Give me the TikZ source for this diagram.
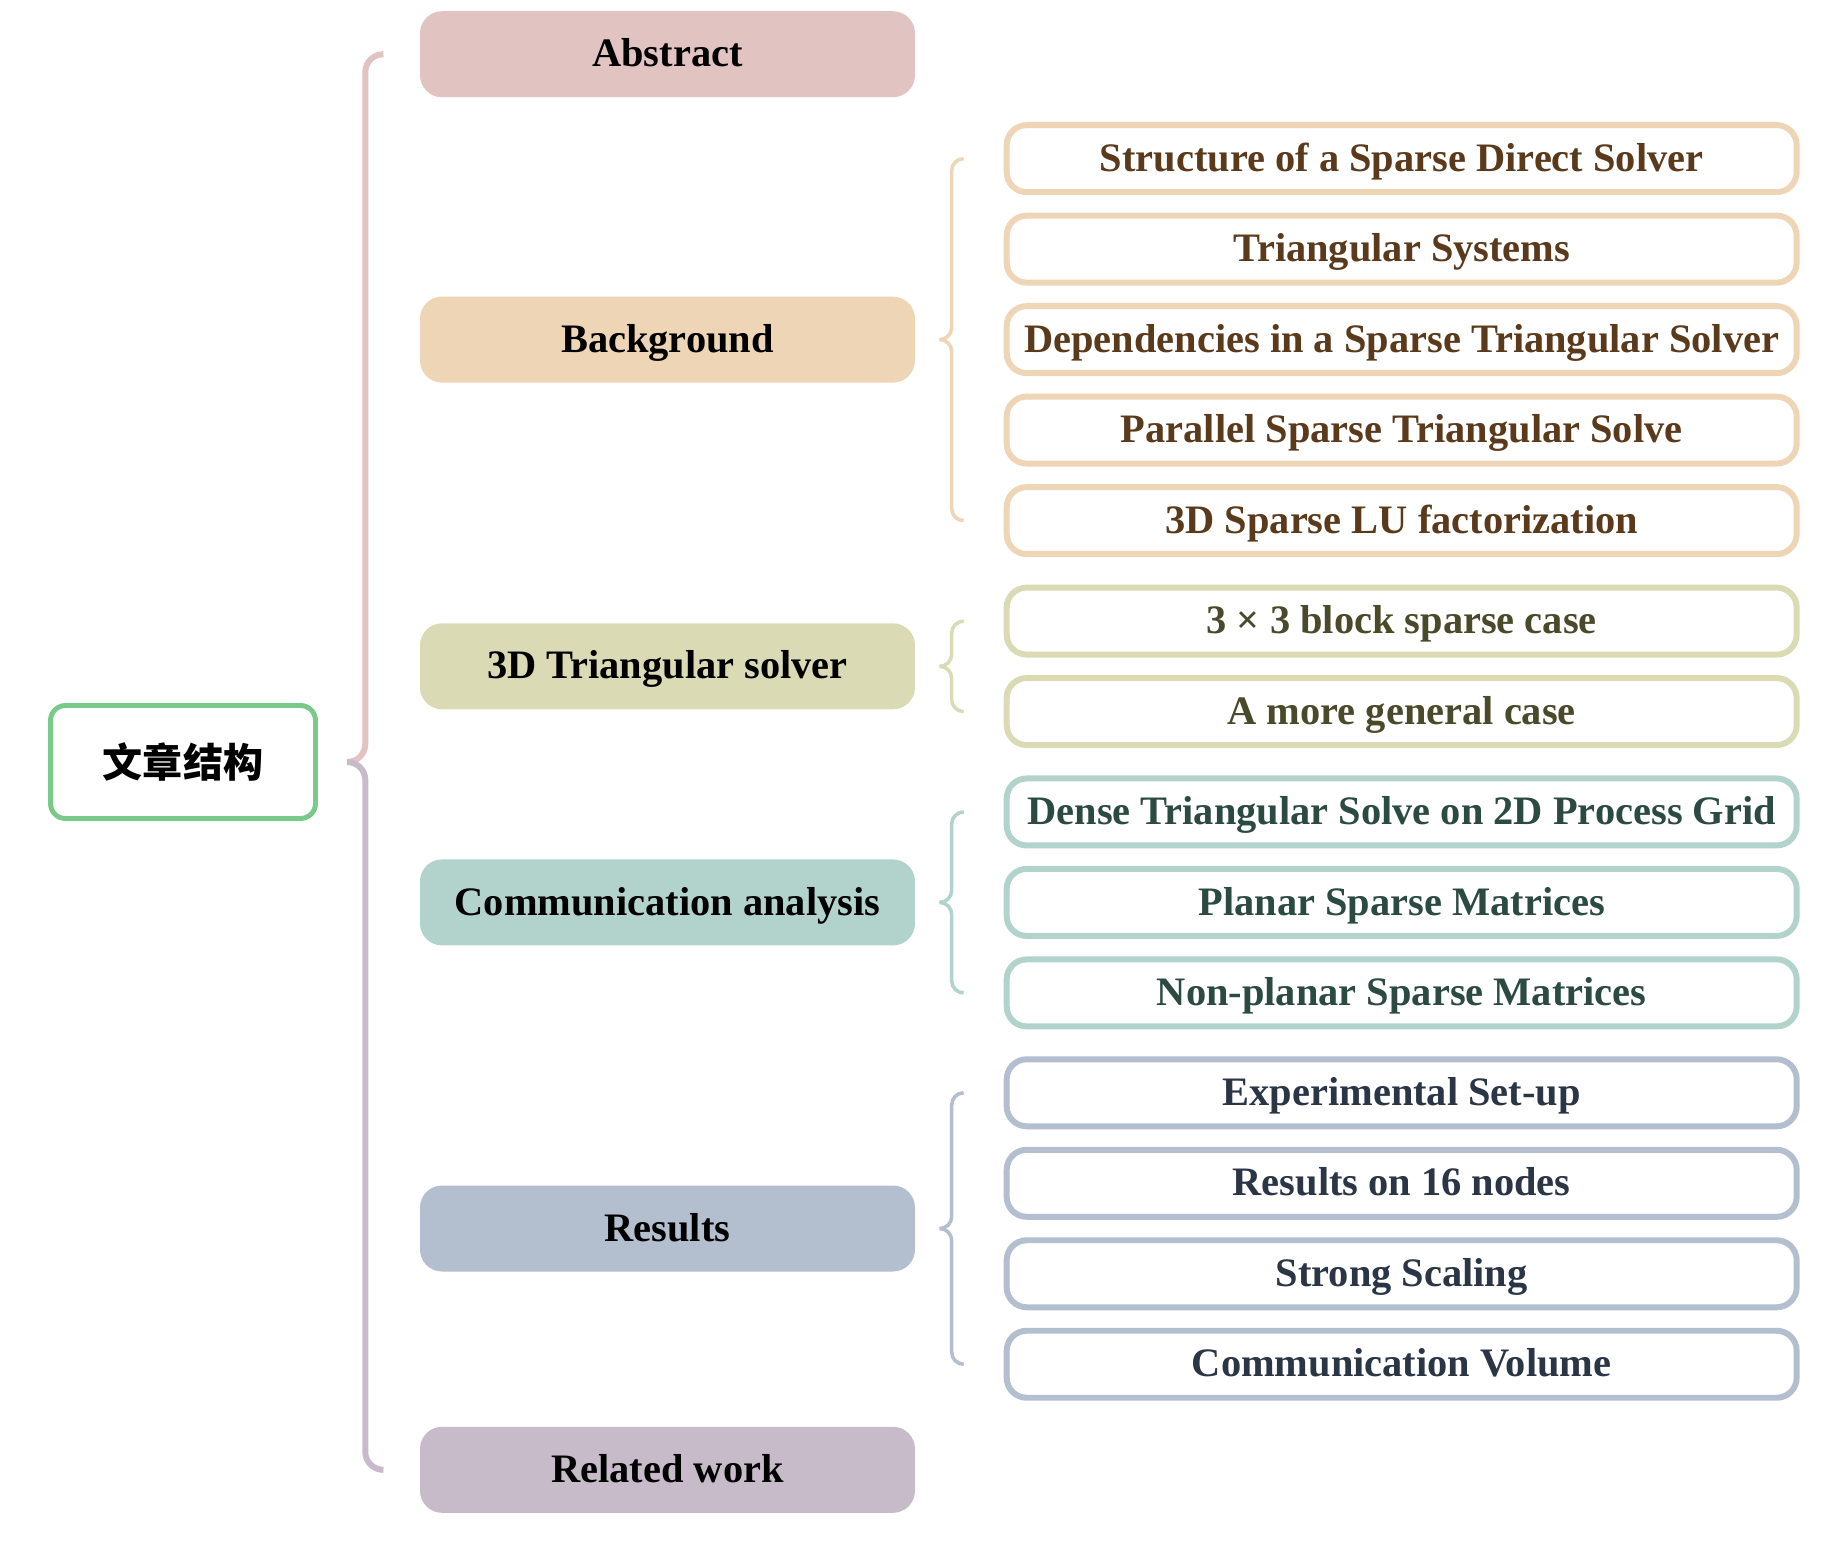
\documentclass[tikz,border=0pt]{standalone}
\usepackage{fontspec}
\setmainfont{Liberation Serif}
\newfontfamily\cjk{Noto Sans CJK SC}
\usepackage{tikz}
\usetikzlibrary{positioning,calc}
\usepackage{xcolor}
\definecolor{absc}{HTML}{E1C3C2}
\definecolor{bgc}{HTML}{EED5B5}
\definecolor{tric}{HTML}{DADBB5}
\definecolor{comc}{HTML}{B2D3CB}
\definecolor{resc}{HTML}{B3BFCF}
\definecolor{relc}{HTML}{C7BAC9}
\definecolor{rootc}{HTML}{78C98A}
\definecolor{bgtxt}{HTML}{5B3A1C}
\definecolor{tritxt}{HTML}{4A4A2A}
\definecolor{comtxt}{HTML}{2B4A42}
\definecolor{restxt}{HTML}{2A3545}
\newcommand\lbl{\fontsize{11.5pt}{13.8pt}\selectfont\bfseries}

\begin{document}
\begin{tikzpicture}[
  main/.style={rectangle, rounded corners=2.2mm, minimum width=4.95cm, minimum height=0.86cm, text height=9.8pt, text depth=2.6pt, align=center, font=\lbl},
  sub/.style={rectangle, draw, line width=1.7pt, rounded corners=2mm, fill=white, minimum width=7.9cm, minimum height=0.67cm, text height=9.8pt, text depth=2.6pt, align=center, font=\lbl},
  brc/.style={line width=1.7pt, rounded corners=1.8mm},
  sbrc/.style={line width=1pt, rounded corners=1.2mm}
]
\useasboundingbox (0,0) rectangle (18.46,-15.40);

\node[draw=rootc, line width=1.4pt, rounded corners=1.5mm, minimum width=2.65cm, minimum height=1.13cm, font=\cjk\fontsize{11.4pt}{13.7pt}\selectfont\bfseries] (root) at (1.83,-7.62) {文章结构};

\node[main, fill=absc] (abs) at (6.675,-0.542)  {Abstract};
\node[main, fill=bgc]  (bg)  at (6.675,-3.396)  {Background};
\node[main, fill=tric] (tri) at (6.675,-6.663)  {3D Triangular solver};
\node[main, fill=comc] (com) at (6.675,-9.024)  {Communication analysis};
\node[main, fill=resc] (res) at (6.675,-12.285) {Results};
\node[main, fill=relc] (rel) at (6.675,-14.698) {Related work};

\node[sub, draw=bgc, text=bgtxt, right=0.88cm of bg] (b3) {Dependencies in a Sparse Triangular Solver};
\node[sub, draw=bgc, text=bgtxt, above=0.175cm of b3] (b2) {Triangular Systems};
\node[sub, draw=bgc, text=bgtxt, above=0.175cm of b2] (b1) {Structure of a Sparse Direct Solver};
\node[sub, draw=bgc, text=bgtxt, below=0.175cm of b3] (b4) {Parallel Sparse Triangular Solve};
\node[sub, draw=bgc, text=bgtxt, below=0.175cm of b4] (b5) {3D Sparse LU factorization};

\node[sub, draw=tric, text=tritxt, above right=0.0875cm and 0.88cm of tri.east] (t1) {3 × 3 block sparse case};
\node[sub, draw=tric, text=tritxt, below=0.175cm of t1] (t2) {A more general case};

\node[sub, draw=comc, text=comtxt, right=0.88cm of com] (c2) {Planar Sparse Matrices};
\node[sub, draw=comc, text=comtxt, above=0.175cm of c2] (c1) {Dense Triangular Solve on 2D Process Grid};
\node[sub, draw=comc, text=comtxt, below=0.175cm of c2] (c3) {Non-planar Sparse Matrices};

\node[sub, draw=resc, text=restxt, above right=0.0875cm and 0.88cm of res.east] (r2) {Results on 16 nodes};
\node[sub, draw=resc, text=restxt, above=0.175cm of r2] (r1) {Experimental Set-up};
\node[sub, draw=resc, text=restxt, below=0.175cm of r2] (r3) {Strong Scaling};
\node[sub, draw=resc, text=restxt, below=0.175cm of r3] (r4) {Communication Volume};

\draw[brc, absc] ([xshift=-3.7mm]abs.west) -- ([xshift=-5.4mm]abs.west) |- ([xshift=3mm]root.east);
\draw[brc, relc] ([xshift=-3.7mm]rel.west) -- ([xshift=-5.4mm]rel.west) |- ([xshift=3mm]root.east);

\draw[sbrc, bgc] ([xshift=-4mm]b1.west) -- ([xshift=-5.2mm]b1.west) |- ([xshift=2.9mm]bg.east);
\draw[sbrc, bgc] ([xshift=-4mm]b5.west) -- ([xshift=-5.2mm]b5.west) |- ([xshift=2.9mm]bg.east);
\draw[sbrc, tric] ([xshift=-4mm]t1.west) -- ([xshift=-5.2mm]t1.west) |- ([xshift=2.9mm]tri.east);
\draw[sbrc, tric] ([xshift=-4mm]t2.west) -- ([xshift=-5.2mm]t2.west) |- ([xshift=2.9mm]tri.east);
\draw[sbrc, comc] ([xshift=-4mm]c1.west) -- ([xshift=-5.2mm]c1.west) |- ([xshift=2.9mm]com.east);
\draw[sbrc, comc] ([xshift=-4mm]c3.west) -- ([xshift=-5.2mm]c3.west) |- ([xshift=2.9mm]com.east);
\draw[sbrc, resc] ([xshift=-4mm]r1.west) -- ([xshift=-5.2mm]r1.west) |- ([xshift=2.9mm]res.east);
\draw[sbrc, resc] ([xshift=-4mm]r4.west) -- ([xshift=-5.2mm]r4.west) |- ([xshift=2.9mm]res.east);
\end{tikzpicture}
\end{document}
